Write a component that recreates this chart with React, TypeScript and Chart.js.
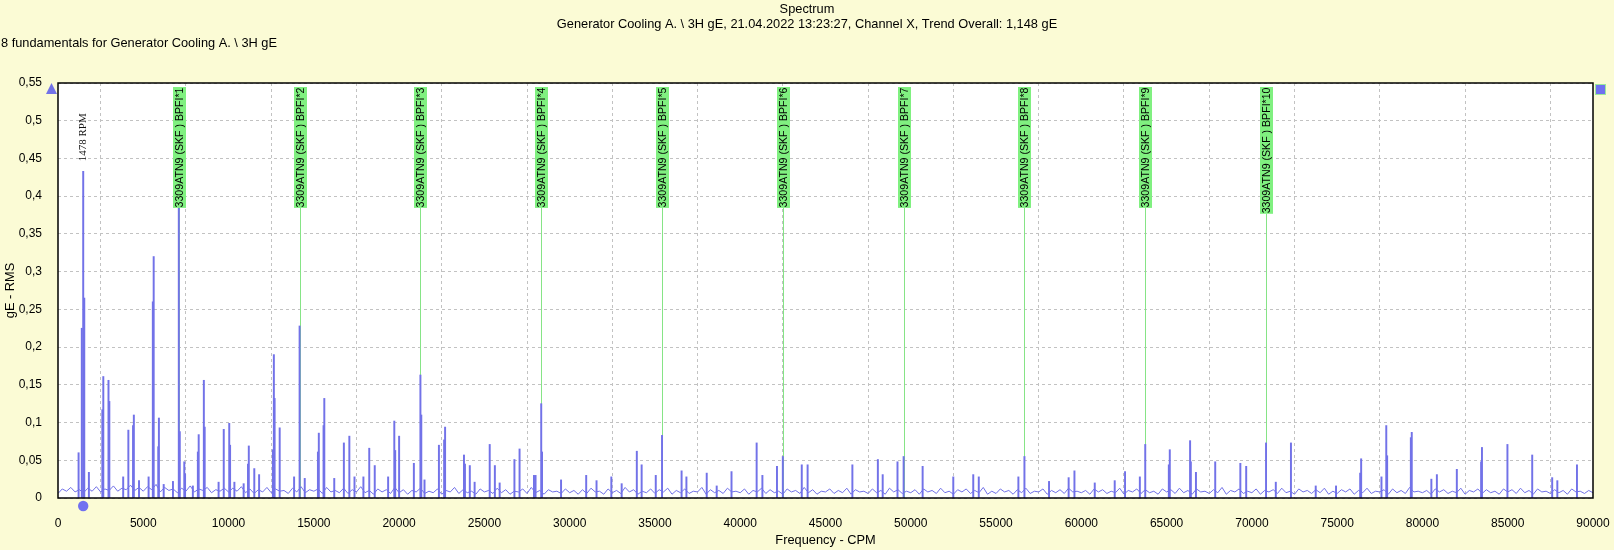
import React, { useEffect, useRef } from "react";
import { Chart, registerables } from "chart.js";

Chart.register(...registerables);

// ---------- text ----------
const TITLE_LINE_1 = "Spectrum";
const TITLE_LINE_2 =
  "Generator Cooling A. \\ 3H gE, 21.04.2022 13:23:27, Channel X, Trend Overall: 1,148 gE";
const SUBTITLE = "8 fundamentals for Generator Cooling A. \\ 3H gE";
const X_TITLE = "Frequency - CPM";
const Y_TITLE = "gE - RMS";

// ---------- axes ----------
const X_MIN = 0;
const X_MAX = 90000;
const X_STEP = 5000;
const Y_MIN = 0;
const Y_MAX = 0.55;
const Y_STEP = 0.05;

// ---------- spectrum noise floor (thousandths of gE, every 250 CPM from 0) ----------
const FLOOR_STEP_CPM = 250;
const FLOOR_MILLI_GE = [
  6, 12, 9, 14, 8, 11, 7, 13, 9, 15, 8, 12, 10, 16, 9, 13, 11, 17, 10, 14,
  9, 15, 11, 18, 8, 14, 10, 12, 7, 13, 9, 16, 8, 12, 10, 14, 7, 11, 9, 13,
  8, 13, 9, 15, 7, 12, 6, 11, 8, 14, 7, 12, 9, 10, 6, 13, 8, 15, 7, 11,
  9, 12, 6, 14, 8, 10, 7, 13, 6, 11, 8, 15, 7, 10, 5, 12, 8, 11, 6, 14,
  7, 11, 5, 10, 8, 13, 6, 9, 7, 12, 5, 10, 8, 14, 6, 11, 7, 9, 5, 12,
  8, 10, 6, 13, 7, 11, 5, 9, 8, 12, 6, 14, 7, 10, 5, 11, 8, 9, 6, 12,
  7, 10, 5, 11, 6, 13, 8, 9, 5, 12, 7, 10, 6, 14, 8, 11, 5, 9, 7, 12,
  6, 11, 8, 13, 5, 10, 7, 12, 6, 9, 8, 14, 5, 11, 7, 10, 6, 13, 8, 9,
  7, 12, 5, 10, 8, 13, 6, 11, 7, 9, 5, 12, 8, 10, 6, 14, 7, 11, 5, 9,
  8, 12, 6, 10, 7, 13, 5, 11, 8, 9, 6, 12, 7, 10, 5, 13, 8, 11, 6, 9,
  7, 11, 5, 12, 8, 10, 6, 13, 7, 9, 5, 11, 8, 12, 6, 10, 7, 14, 5, 9,
  6, 12, 8, 10, 5, 11, 7, 13, 6, 9, 8, 12, 5, 10, 7, 11, 6, 13, 8, 9,
  7, 10, 5, 12, 8, 11, 6, 9, 7, 13, 5, 10, 8, 12, 6, 11, 7, 9, 5, 12,
  8, 11, 6, 13, 7, 10, 5, 12, 8, 9, 6, 11, 7, 14, 5, 10, 8, 12, 6, 9,
  7, 12, 5, 10, 8, 11, 6, 13, 7, 9, 5, 12, 8, 10, 6, 11, 7, 13, 5, 9,
  6, 11, 8, 12, 5, 10, 7, 13, 6, 9, 8, 11, 5, 12, 7, 10, 6, 14, 8, 9,
  7, 10, 5, 12, 8, 11, 6, 9, 7, 13, 5, 10, 8, 12, 6, 11, 7, 9, 5, 12,
  8, 11, 6, 13, 7, 10, 5, 12, 8, 9, 6, 11, 7, 10, 5, 12, 8, 9, 6, 10,
  7,
];

// ---------- spectrum peaks ----------
const PEAK_CPM = [
  1207, 1395, 1478, 1540, 1811, 2600, 2656, 2960, 3010, 3822,
  4125, 4400, 4447, 4750, 5312, 5560, 5610, 5880, 5916, 6197,
  6740, 7083, 7140, 7404, 7450, 7907, 8200, 8249, 8551, 8600,
  9416, 9718, 10040, 10090, 10342, 10885, 11140, 11187, 11509, 11791,
  12600, 12656, 12700, 12998, 13843, 14166, 14467, 15240, 15292, 15570,
  15614, 16197, 16761, 17082, 17384, 17907, 18249, 18571, 19356, 19718,
  19770, 20000, 20865, 21249, 21300, 21489, 22334, 22640, 22696, 23803,
  23860, 24145, 24427, 25312, 25614, 25895, 26761, 27062, 27907, 28000,
  28332, 28380, 29495, 30969, 31575, 32443, 33049, 33937, 34220, 35048,
  35415, 36562, 36845, 38036, 38621, 39489, 40963, 41300, 42155, 42498,
  43608, 43951, 46576, 48070, 48353, 49221, 49581, 50695, 52492, 53663,
  53987, 56309, 56664, 58106, 59256, 59596, 60787, 61957, 62563, 63431,
  63747, 65130, 65186, 66377, 66420, 66720, 67850, 69323, 69666, 70830,
  71402, 72290, 73743, 74933, 76350, 76406, 77597, 77879, 77930, 79320,
  79373, 80523, 80846, 82016, 83440, 83489, 84983, 86436, 87607, 87909,
  89059,
];
const PEAK_GE = [
  0.06, 0.225, 0.433, 0.265, 0.034, 0.117, 0.161, 0.156, 0.128, 0.028,
  0.09, 0.096, 0.11, 0.023, 0.028, 0.26, 0.32, 0.068, 0.106, 0.018,
  0.022, 0.385, 0.088, 0.048, 0.032, 0.016, 0.061, 0.084, 0.156, 0.094,
  0.021, 0.091, 0.099, 0.07, 0.021, 0.019, 0.045, 0.069, 0.039, 0.031,
  0.064, 0.19, 0.132, 0.093, 0.028, 0.228, 0.026, 0.061, 0.086, 0.096,
  0.132, 0.026, 0.073, 0.082, 0.028, 0.028, 0.066, 0.043, 0.028, 0.102,
  0.063, 0.082, 0.046, 0.163, 0.11, 0.024, 0.07, 0.077, 0.094, 0.057,
  0.045, 0.043, 0.021, 0.071, 0.043, 0.02, 0.051, 0.065, 0.03, 0.03,
  0.125, 0.061, 0.024, 0.03, 0.023, 0.028, 0.019, 0.062, 0.044, 0.03,
  0.083, 0.036, 0.028, 0.033, 0.016, 0.035, 0.073, 0.03, 0.042, 0.055,
  0.044, 0.044, 0.044, 0.051, 0.031, 0.048, 0.055, 0.042, 0.028, 0.031,
  0.028, 0.028, 0.055, 0.022, 0.027, 0.036, 0.02, 0.023, 0.035, 0.028,
  0.071, 0.044, 0.064, 0.076, 0.048, 0.034, 0.048, 0.046, 0.042, 0.073,
  0.021, 0.073, 0.016, 0.016, 0.033, 0.052, 0.028, 0.096, 0.056, 0.08,
  0.087, 0.025, 0.031, 0.038, 0.048, 0.067, 0.071, 0.057, 0.027, 0.023,
  0.044,
];

// ---------- markers ----------
const RPM_CPM = 1478;
const RPM_LABEL = "1478 RPM";
const BPFI_CPM = 7083;
const BPFI_ORDERS = [1, 2, 3, 4, 5, 6, 7, 8, 9, 10];
const BPFI_LABEL_PREFIX = "3309ATN9 (SKF ) BPFI*";

// ---------- styles ----------
const BG = "#fbfbd5";
const BLUE = "#7272e8";
const GREEN_BOX = "#80f080";
const GREEN_LINE = "#86e486";
const SANS = "'Liberation Sans', Arial, sans-serif";
const SERIF = "'Liberation Serif', 'Times New Roman', serif";
const TITLE_SIZE = 12.8;

const fmtY = (v: number) => String(Math.round(v * 100) / 100).replace(".", ",");

const decorPlugin = {
  id: "decor",
  beforeDraw(chart: any) {
    const { ctx, width, height, chartArea: a } = chart;
    ctx.save();
    ctx.fillStyle = BG;
    ctx.fillRect(0, 0, width, height);
    ctx.fillStyle = "#ffffff";
    ctx.fillRect(a.left, a.top, a.right - a.left, a.bottom - a.top);
    ctx.fillStyle = "#000";
    ctx.font = `${TITLE_SIZE}px ${SANS}`;
    ctx.textBaseline = "middle";
    ctx.textAlign = "center";
    ctx.fillText(TITLE_LINE_1, width / 2, 9.5);
    ctx.fillText(TITLE_LINE_2, width / 2, 24.5);
    ctx.textAlign = "left";
    ctx.fillText(SUBTITLE, 1, 43.5);
    ctx.restore();
  },
  beforeDatasetsDraw(chart: any) {
    const { ctx, chartArea: a, scales } = chart;
    const xs = scales.x;
    const ys = scales.y;
    ctx.save();
    ctx.font = `10.6px ${SANS}`;
    ctx.strokeStyle = GREEN_LINE;
    ctx.lineWidth = 1;
    for (const n of BPFI_ORDERS) {
      const label = BPFI_LABEL_PREFIX + n;
      const w = ctx.measureText(label).width;
      const px = Math.round(xs.getPixelForValue(n * BPFI_CPM)) + 0.5;
      const bottom = a.top + 4 + w + 1;
      ctx.beginPath();
      ctx.moveTo(px, bottom);
      ctx.lineTo(px, ys.getPixelForValue(0));
      ctx.stroke();
    }
    ctx.restore();
  },
  afterDatasetsDraw(chart: any) {
    const { ctx, chartArea: a, scales } = chart;
    const xs = scales.x;
    const ys = scales.y;
    ctx.save();
    // BPFI labels
    ctx.font = `10.6px ${SANS}`;
    for (const n of BPFI_ORDERS) {
      const label = BPFI_LABEL_PREFIX + n;
      const w = ctx.measureText(label).width;
      const cx = Math.round(xs.getPixelForValue(n * BPFI_CPM)) + 0.5;
      const top = a.top + 4;
      const h = w + 1;
      ctx.fillStyle = GREEN_BOX;
      ctx.fillRect(cx - 6.5, top, 13, h);
      ctx.save();
      ctx.translate(cx + 0.5, top + h - 0.5);
      ctx.rotate(-Math.PI / 2);
      ctx.fillStyle = "#000";
      ctx.textAlign = "left";
      ctx.textBaseline = "middle";
      ctx.fillText(label, 0, 0);
      ctx.restore();
    }
    // RPM label
    const rx = xs.getPixelForValue(RPM_CPM);
    const rpmPeak = PEAK_GE[PEAK_CPM.indexOf(RPM_CPM)];
    ctx.save();
    ctx.translate(rx, ys.getPixelForValue(rpmPeak) - 10);
    ctx.rotate(-Math.PI / 2);
    ctx.font = `11px ${SERIF}`;
    ctx.fillStyle = "#111";
    ctx.textAlign = "left";
    ctx.textBaseline = "middle";
    ctx.fillText(RPM_LABEL, 0, 0);
    ctx.restore();
    // frame
    ctx.strokeStyle = "#000";
    ctx.lineWidth = 1.5;
    ctx.strokeRect(a.left, a.top, a.right - a.left, a.bottom - a.top);
    // cursor markers
    ctx.fillStyle = BLUE;
    ctx.beginPath();
    ctx.moveTo(a.left - 6.5, a.top);
    ctx.lineTo(a.left - 1, a.top + 11);
    ctx.lineTo(a.left - 12, a.top + 11);
    ctx.closePath();
    ctx.fill();
    ctx.fillStyle = "#7070f0";
    ctx.fillRect(a.right + 3, a.top + 2, 9, 9);
    ctx.strokeStyle = "#9be89b";
    ctx.lineWidth = 1;
    ctx.strokeRect(a.right + 2.5, a.top + 1.5, 10, 10);
    ctx.fillStyle = "#7070f0";
    ctx.beginPath();
    ctx.arc(rx, a.bottom + 8, 5.2, 0, Math.PI * 2);
    ctx.fill();
    ctx.restore();
  },
};

export default function App() {
  const ref = useRef<HTMLCanvasElement | null>(null);

  useEffect(() => {
    if (!ref.current) return;
    Chart.defaults.font.family = SANS;
    Chart.defaults.font.size = 12;
    Chart.defaults.color = "#000";

    const floorData = FLOOR_MILLI_GE.map((v, i) => ({ x: i * FLOOR_STEP_CPM, y: v / 1000 }));
    const peakData = PEAK_CPM.map((f, i) => ({ x: f, y: PEAK_GE[i] }));

    const chart = new Chart(ref.current, {
      type: "line",
      data: {
        datasets: [
          {
            type: "bar",
            data: peakData,
            backgroundColor: BLUE,
            borderWidth: 0,
            barThickness: 1.3,
            grouped: false,
          } as any,
          {
            type: "line",
            data: floorData,
            borderColor: BLUE,
            borderWidth: 1,
            pointRadius: 0,
            tension: 0,
            fill: false,
          },
        ],
      },
      options: {
        animation: false,
        responsive: true,
        maintainAspectRatio: false,
        events: [],
        layout: { padding: { left: 0, top: 83, right: 21, bottom: 0 } },
        plugins: {
          legend: { display: false },
          tooltip: { enabled: false },
          title: { display: false },
        },
        scales: {
          x: {
            type: "linear",
            min: X_MIN,
            max: X_MAX,
            offset: false,
            afterFit: (s: any) => {
              s.height = 52;
              s.paddingLeft = 0;
              s.paddingRight = 0;
            },
            ticks: {
              stepSize: X_STEP,
              autoSkip: false,
              maxRotation: 0,
              padding: 18,
              color: "#000",
              font: { size: 12, family: SANS },
              callback: (v: any) => String(v),
            },
            grid: { color: "#c2c2c2", lineWidth: 1, drawTicks: false },
            border: { display: false, dash: [3, 3] },
            title: {
              display: true,
              text: X_TITLE,
              color: "#000",
              font: { size: TITLE_SIZE, family: SANS },
              padding: { top: 0, bottom: 2 },
            },
          },
          y: {
            type: "linear",
            min: Y_MIN,
            max: Y_MAX,
            afterFit: (s: any) => {
              s.width = 58;
              s.paddingTop = 0;
              s.paddingBottom = 0;
            },
            ticks: {
              stepSize: Y_STEP,
              padding: 16,
              color: "#000",
              font: { size: 12, family: SANS },
              callback: (v: any) => fmtY(Number(v)),
            },
            grid: { color: "#c2c2c2", lineWidth: 1, drawTicks: false },
            border: { display: false, dash: [3, 3] },
            title: {
              display: true,
              text: Y_TITLE,
              color: "#000",
              font: { size: TITLE_SIZE, family: SANS },
              padding: { top: 3, bottom: 0 },
            },
          },
        },
      } as any,
      plugins: [decorPlugin],
    });
    return () => chart.destroy();
  }, []);

  return (
    <div
      style={{
        position: "fixed",
        left: 0,
        top: 0,
        width: 1614,
        height: 550,
        background: BG,
      }}
    >
      <canvas ref={ref} />
    </div>
  );
}
